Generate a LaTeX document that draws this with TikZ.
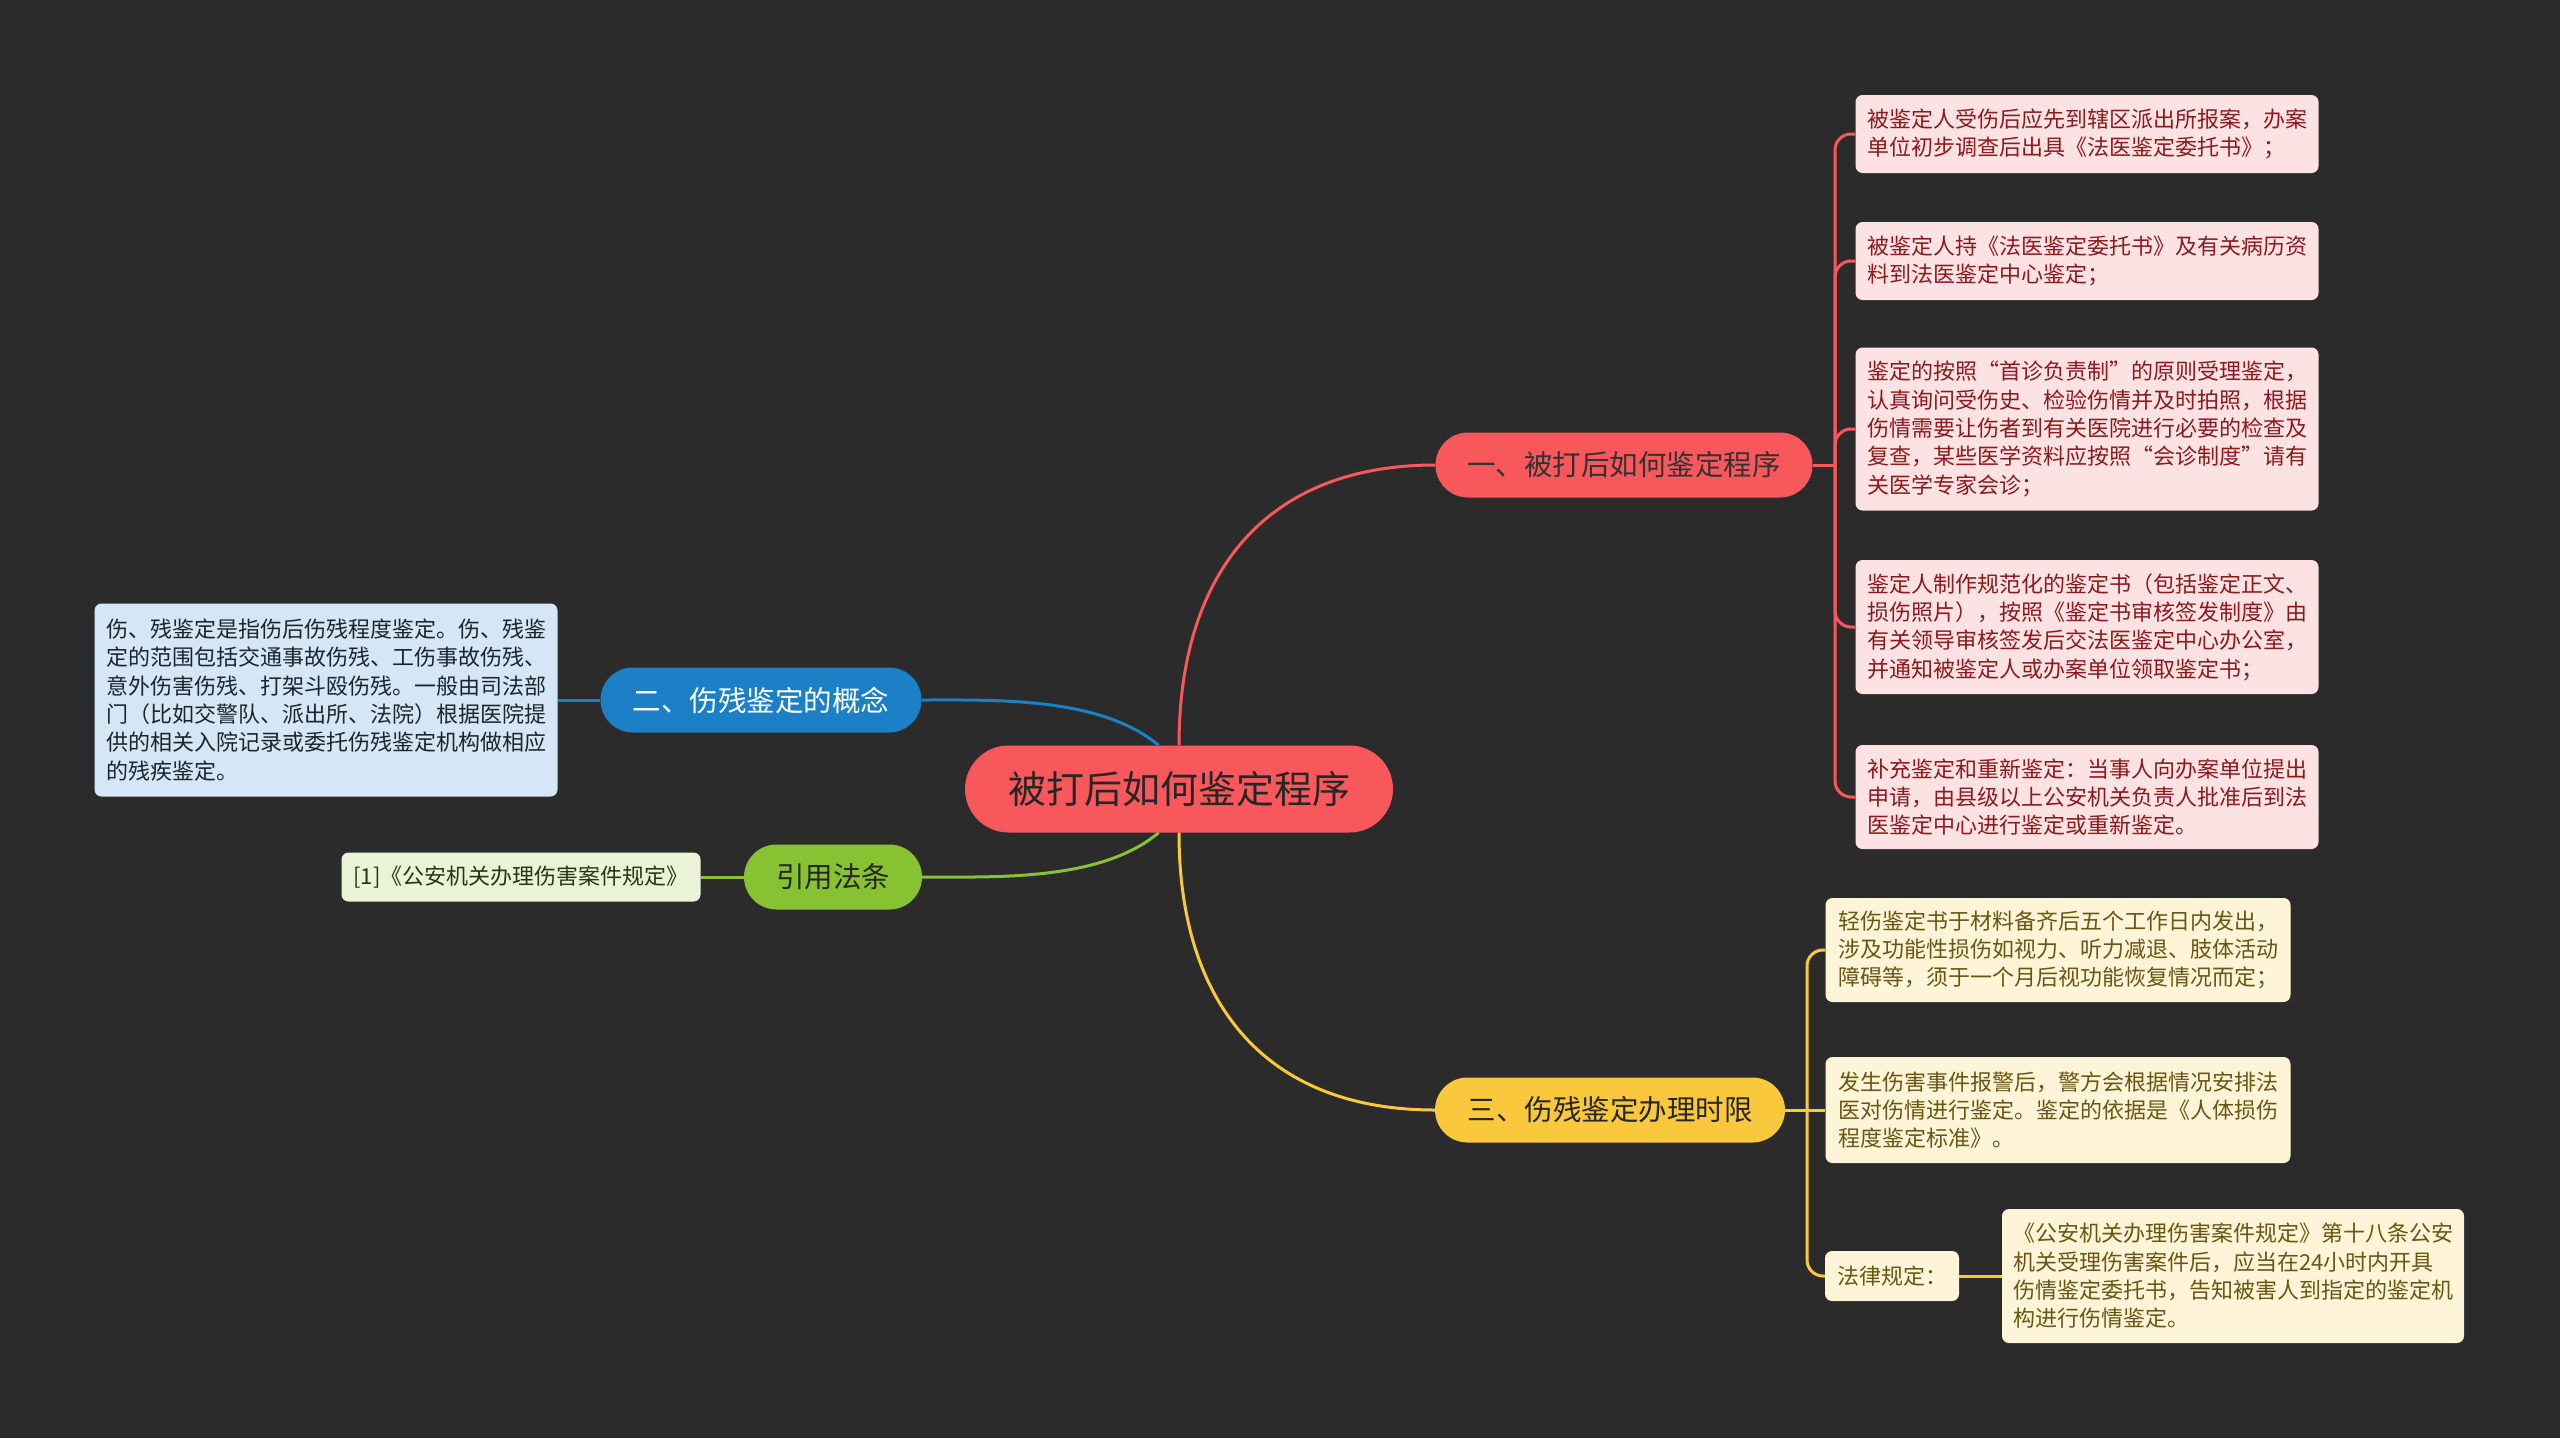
\documentclass[tikz,border=0pt]{standalone}
\usepackage{fontspec}
\newfontfamily\cjk{Noto Sans CJK SC}
\usepackage{xcolor}
\usepackage{tikz}
\usetikzlibrary{shapes.misc}

\definecolor{bgc}{HTML}{2B2B2B}
\definecolor{redc}{HTML}{F8585C}
\definecolor{bluec}{HTML}{1C80C6}
\definecolor{greenc}{HTML}{86C232}
\definecolor{yellowc}{HTML}{F9C83C}
\definecolor{pinkfill}{HTML}{FDE2E3}
\definecolor{pinktext}{HTML}{8A1A1C}
\definecolor{bluefill}{HTML}{D5E7F4}
\definecolor{bluetext}{HTML}{1A2530}
\definecolor{greenfill}{HTML}{EAF3D6}
\definecolor{greentext}{HTML}{2A3318}
\definecolor{yellowfill}{HTML}{FEF5D8}
\definecolor{yellowtext}{HTML}{6A5512}

\begin{document}
\begin{tikzpicture}[
  x=1pt, y=-1pt,
  central/.style={rounded rectangle, fill=redc, text=black!85, inner sep=0pt,
    minimum width=428pt, minimum height=87pt, font=\fontsize{38}{44}\selectfont\cjk},
  topic/.style={rounded rectangle, inner sep=0pt, minimum height=65pt,
    font=\fontsize{28.5}{34}\selectfont\cjk},
  note/.style={rectangle, rounded corners=7pt, inner xsep=11pt, inner ysep=0pt,
    align=left, font=\fontsize{22}{28.3}\selectfont\cjk},
  link/.style={line width=3pt},
  rednote/.style={note, fill=pinkfill, text=pinktext, minimum width=463pt},
  yellownote/.style={note, fill=yellowfill, text=yellowtext}
]
  \fill[bgc] (0,0) rectangle (2560,1438);
  \useasboundingbox (0,0) rectangle (2560,1438);

  % main topic and branches
  \node[central] (root) at (1179,789) {被打后如何鉴定程序};
  \node[topic, fill=redc, text=black!80, minimum width=377pt] (b1) at (1624,465) {一、被打后如何鉴定程序};
  \node[topic, fill=bluec, text=white, minimum width=321pt] (b2) at (761,700) {二、伤残鉴定的概念};
  \node[topic, fill=greenc, text=black!85, minimum width=178pt] (b3) at (833,877) {引用法条};
  \node[topic, fill=yellowc, text=black!85, minimum width=350pt] (b4) at (1610,1110) {三、伤残鉴定办理时限};

  % notes of branch one
  \node[rednote, minimum height=78pt] (l1) at (2087,134)
    {被鉴定人受伤后应先到辖区派出所报案，办案\\单位初步调查后出具《法医鉴定委托书》；};
  \node[rednote, minimum height=78pt] (l2) at (2087,261)
    {被鉴定人持《法医鉴定委托书》及有关病历资\\料到法医鉴定中心鉴定；};
  \node[rednote, minimum height=163pt] (l3) at (2087,429)
    {鉴定的按照“首诊负责制”的原则受理鉴定，\\认真询问受伤史、检验伤情并及时拍照，根据\\伤情需要让伤者到有关医院进行必要的检查及\\复查，某些医学资料应按照“会诊制度”请有\\关医学专家会诊；};
  \node[rednote, minimum height=134pt] (l4) at (2087,627)
    {鉴定人制作规范化的鉴定书（包括鉴定正文、\\损伤照片），按照《鉴定书审核签发制度》由\\有关领导审核签发后交法医鉴定中心办公室，\\并通知被鉴定人或办案单位领取鉴定书；};
  \node[rednote, minimum height=104pt] (l5) at (2087,797)
    {补充鉴定和重新鉴定：当事人向办案单位提出\\申请，由县级以上公安机关负责人批准后到法\\医鉴定中心进行鉴定或重新鉴定。};

  % notes of branch two and the cited law
  \node[note, fill=bluefill, text=bluetext, minimum width=463pt, minimum height=193pt] (n2) at (326,700)
    {伤、残鉴定是指伤后伤残程度鉴定。伤、残鉴\\定的范围包括交通事故伤残、工伤事故伤残、\\意外伤害伤残、打架斗殴伤残。一般由司法部\\门（比如交警队、派出所、法院）根据医院提\\供的相关入院记录或委托伤残鉴定机构做相应\\的残疾鉴定。};
  \node[note, fill=greenfill, text=greentext, minimum width=359pt, minimum height=49pt] (n3) at (521,877)
    {[1]《公安机关办理伤害案件规定》};

  % notes of branch three
  \node[yellownote, minimum width=465pt, minimum height=104pt] (y1) at (2058,950)
    {轻伤鉴定书于材料备齐后五个工作日内发出，\\涉及功能性损伤如视力、听力减退、肢体活动\\障碍等，须于一个月后视功能恢复情况而定；};
  \node[yellownote, minimum width=465pt, minimum height=106pt] (y2) at (2058,1110)
    {发生伤害事件报警后，警方会根据情况安排法\\医对伤情进行鉴定。鉴定的依据是《人体损伤\\程度鉴定标准》。};
  \node[yellownote, minimum width=134pt, minimum height=50pt] (y3) at (1892,1276) {法律规定：};
  \node[yellownote, minimum width=462pt, minimum height=134pt] (y4) at (2233,1276)
    {《公安机关办理伤害案件规定》第十八条公安\\机关受理伤害案件后，应当在24小时内开具\\伤情鉴定委托书，告知被害人到指定的鉴定机\\构进行伤情鉴定。};

  % connectors
  \draw[link, redc] (root.north) to[out=90, in=180, looseness=1.15] (b1.west);
  \draw[link, bluec] (root.115) to[out=140, in=0, looseness=0.8] (b2.east);
  \draw[link, greenc] (root.245) to[out=220, in=0, looseness=0.8] (b3.east);
  \draw[link, yellowc] (root.south) to[out=270, in=180, looseness=1.15] (b4.west);

  \draw[link, bluec] (b2.west) -- (n2.east);
  \draw[link, greenc] (b3.west) -- (n3.east);

  \coordinate (s1) at (1835,465);
  \draw[link, redc] (b1.east) -- (s1);
  \foreach \n in {l1,l2,l3,l4,l5}
    \draw[link, redc, rounded corners=16pt] (s1) |- (\n.west);

  \coordinate (s2) at (1807,1110);
  \draw[link, yellowc] (b4.east) -- (y2.west);
  \foreach \n in {y1,y3}
    \draw[link, yellowc, rounded corners=16pt] (s2) |- (\n.west);
  \draw[link, yellowc] (y3.east) -- (y4.west);
\end{tikzpicture}
\end{document}
